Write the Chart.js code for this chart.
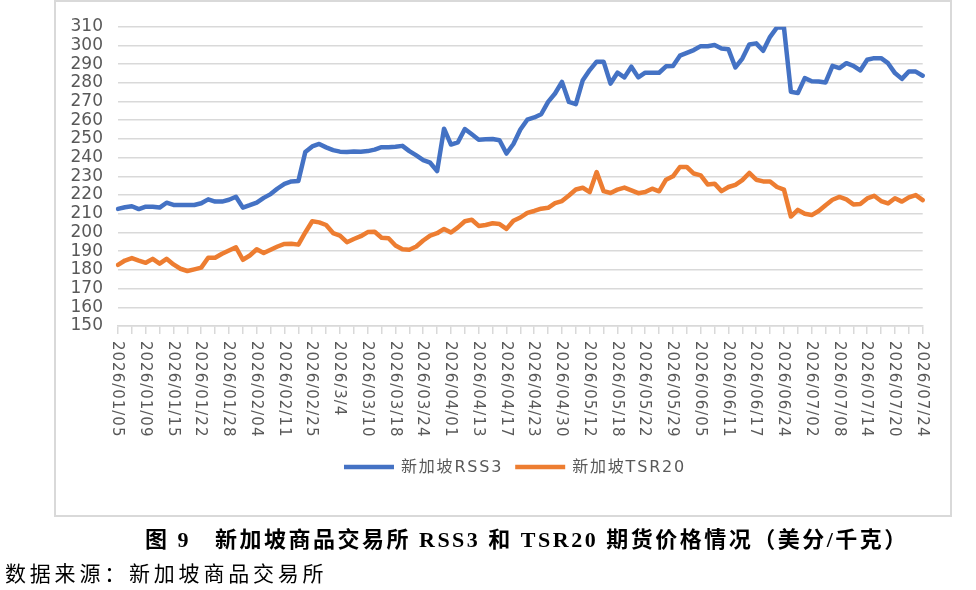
<!DOCTYPE html>
<html>
<head>
<meta charset="utf-8">
<script src="https://cdn.jsdelivr.net/npm/chart.js@4/dist/chart.umd.min.js"></script>
<style>
  body { margin: 0; width: 976px; height: 590px; position: relative; background: #fff; overflow: hidden; }
  #box { position: absolute; left: 54px; top: 0; width: 898px; height: 517px; border: 2px solid #d9d9d9; box-sizing: border-box; }
  #wrap { position: absolute; left: 0; top: 0; width: 976px; height: 590px; }
  #title { position: absolute; left: 145px; top: 521px; line-height: 30px; white-space: pre;
           font: bold 22px "Liberation Serif", "Noto Sans CJK SC"; letter-spacing: 2.5px; color: #000; }
  #source { position: absolute; left: 5px; top: 557px; line-height: 30px; white-space: pre;
            font: 21px "Noto Sans CJK SC"; letter-spacing: 3.8px; color: #000; }
</style>
</head>
<body>
<div id="box"></div>
<div id="wrap"><canvas id="price-chart"></canvas></div>
<div id="title">图 9   新加坡商品交易所 RSS3 和 TSR20 期货价格情况（美分/千克）</div>
<div id="source">数据来源：新加坡商品交易所</div>
<script>
// 横轴日期（每4个交易日一个标签）
const tickLabels = [
    "2026/01/05", "2026/01/09", "2026/01/15", "2026/01/22", "2026/01/28",
    "2026/02/04", "2026/02/11", "2026/02/25", "2026/3/4", "2026/03/10",
    "2026/03/18", "2026/03/24", "2026/04/01", "2026/04/13", "2026/04/17",
    "2026/04/23", "2026/04/30", "2026/05/12", "2026/05/18", "2026/05/22",
    "2026/05/29", "2026/06/05", "2026/06/11", "2026/06/17", "2026/06/24",
    "2026/07/02", "2026/07/08", "2026/07/14", "2026/07/20", "2026/07/24"
];

// 新加坡RSS3
const rss3 = [
    212.6, 213.5, 214.0, 212.5, 213.8, 213.8, 213.3, 215.9, 214.7, 214.7,
    214.7, 214.7, 215.6, 217.7, 216.5, 216.5, 217.5, 219.1, 213.3, 214.6,
    216.0, 218.5, 220.5, 223.5, 226.0, 227.3, 227.5, 243.0, 246.0, 247.3,
    245.5, 244.0, 243.2, 243.0, 243.3, 243.2, 243.5, 244.3, 245.6, 245.6,
    245.8, 246.3, 243.5, 241.2, 238.7, 237.3, 232.8, 255.5, 247.0, 248.2,
    255.3, 252.5, 249.6, 249.8, 250.0, 249.3, 242.2, 247.3, 255.0, 260.3,
    261.5, 263.2, 269.8, 274.3, 280.5, 269.8, 268.6, 281.4, 286.8, 291.3,
    291.3, 279.6, 285.4, 282.9, 288.6, 282.9, 285.4, 285.4, 285.4, 288.8,
    289.0, 294.5, 296.0, 297.5, 299.6, 299.6, 300.2, 298.4, 297.9, 288.2,
    293.0, 300.5, 301.1, 297.1, 304.6, 309.6, 309.6, 275.2, 274.5, 282.5,
    280.8, 280.7, 280.2, 289.1, 287.9, 290.5, 289.1, 286.6, 292.3, 293.2,
    293.2, 290.5, 285.2, 282.1, 286.1, 286.0, 283.8
];

// 新加坡TSR20
const tsr20 = [
    182.7, 185.0, 186.3, 185.0, 183.8, 185.9, 183.3, 185.9, 182.9, 180.6,
    179.4, 180.3, 181.2, 186.5, 186.5, 188.6, 190.4, 192.1, 185.4, 187.7,
    191.0, 189.0, 190.8, 192.5, 193.9, 194.0, 193.5, 200.0, 206.0, 205.4,
    204.0, 199.7, 198.3, 194.8, 196.5, 198.0, 200.2, 200.4, 197.2, 196.9,
    193.0, 191.0, 190.8, 192.5, 195.7, 198.3, 199.6, 201.9, 200.0, 202.7,
    206.0, 206.8, 203.5, 204.0, 204.9, 204.5, 201.9, 206.3, 208.0, 210.5,
    211.5, 212.7, 213.2, 215.7, 216.8, 219.8, 223.0, 223.9, 221.6, 232.3,
    222.1, 221.1, 222.9, 224.0, 222.5, 221.0, 221.6, 223.4, 222.0, 228.2,
    230.0, 235.0, 235.0, 231.5, 230.5, 225.7, 226.1, 222.1, 224.3, 225.5,
    228.0, 231.8, 228.2, 227.3, 227.3, 224.3, 222.9, 208.5, 212.1, 210.0,
    209.3, 211.5, 214.6, 217.5, 219.0, 217.7, 215.0, 215.2, 218.2, 219.6,
    216.8, 215.5, 218.3, 216.5, 218.8, 220.0, 217.3
];

// 纵轴范围
const yMin = 150;
const yMax = 310;
const yStep = 10;

const categories = rss3.map((_, i) => (i % 4 === 0 ? tickLabels[i / 4] : ""));

// 横轴标签（竖排，从上往下读）
const xLabelPlugin = {
    id: "xLabels",
    afterDraw(chart) {
        const { ctx, scales } = chart;
        const xScale = scales.x;

        ctx.save();
        ctx.font = '15px "DejaVu Sans"';
        ctx.letterSpacing = "1px";
        ctx.fillStyle = "#595959";
        ctx.textAlign = "left";
        ctx.textBaseline = "middle";
        categories.forEach((label, i) => {
            if (!label) {
                return;
            }
            const px = xScale.getPixelForValue(i);
            ctx.save();
            ctx.translate(px - 1, xScale.bottom + 5);
            ctx.rotate(Math.PI / 2);
            ctx.fillText(label, 0, 0);
            ctx.restore();
        });
        ctx.restore();
    }
};

// 图例
const legendPlugin = {
    id: "lineLegend",
    afterDraw(chart) {
        const { ctx } = chart;
        const lineLen = 50;
        const gap = 7;
        const itemGap = 12;
        const y = 467;

        ctx.save();
        ctx.font = '16px "DejaVu Sans", "Noto Sans CJK SC"';
        ctx.letterSpacing = "1.8px";
        const items = chart.data.datasets.map(ds => ({
            text: ds.label,
            color: ds.borderColor,
            width: ctx.measureText(ds.label).width
        }));
        const total = items.reduce((sum, it) => sum + lineLen + gap + it.width, 0) + itemGap * (items.length - 1);
        let x = 515 - total / 2;

        items.forEach(it => {
            ctx.strokeStyle = it.color;
            ctx.lineWidth = 4.5;
            ctx.lineCap = "butt";
            ctx.beginPath();
            ctx.moveTo(x, y);
            ctx.lineTo(x + lineLen, y);
            ctx.stroke();
            x += lineLen + gap;

            ctx.fillStyle = "#595959";
            ctx.textAlign = "left";
            ctx.textBaseline = "middle";
            ctx.fillText(it.text, x, y + 1);
            x += it.width + itemGap;
        });
        ctx.restore();
    }
};

new Chart(document.getElementById("price-chart"), {
    type: "line",
    data: {
        labels: categories,
        datasets: [
            {
                label: "新加坡RSS3",
                data: rss3,
                borderColor: "#4472C4",
                backgroundColor: "#4472C4",
                borderWidth: 4.5,
                pointRadius: 0,
                tension: 0,
                borderJoinStyle: "round",
                borderCapStyle: "round"
            },
            {
                label: "新加坡TSR20",
                data: tsr20,
                borderColor: "#ED7D31",
                backgroundColor: "#ED7D31",
                borderWidth: 4.5,
                pointRadius: 0,
                tension: 0,
                borderJoinStyle: "round",
                borderCapStyle: "round"
            }
        ]
    },
    options: {
        responsive: true,
        maintainAspectRatio: false,
        animation: false,
        layout: {
            padding: {
                left: 58,
                right: 53.3,
                top: 26.7,
                bottom: 254
            }
        },
        scales: {
            x: {
                offset: false,
                afterBuildTicks(axis) {
                    axis.ticks = axis.ticks.filter(t => t.value % 2 === 0);
                },
                afterFit(axis) {
                    axis.height = 10;
                },
                ticks: {
                    display: false,
                    autoSkip: false
                },
                grid: {
                    display: true,
                    drawOnChartArea: false,
                    drawTicks: true,
                    tickLength: 8,
                    color: "#d9d9d9",
                    lineWidth: 1.5
                },
                border: {
                    display: true,
                    color: "#d9d9d9",
                    width: 1.5
                }
            },
            y: {
                min: yMin,
                max: yMax,
                afterFit(axis) {
                    axis.width = 60;
                },
                ticks: {
                    stepSize: yStep,
                    autoSkip: false,
                    padding: 15,
                    color: "#595959",
                    font: {
                        family: "DejaVu Sans",
                        size: 17
                    }
                },
                grid: {
                    color: "#d9d9d9",
                    lineWidth: 1.5,
                    drawTicks: false
                },
                border: {
                    display: false
                }
            }
        },
        plugins: {
            legend: {
                display: false
            },
            tooltip: {
                enabled: false
            }
        }
    },
    plugins: [
        xLabelPlugin,
        legendPlugin
    ]
});
</script>
</body>
</html>
